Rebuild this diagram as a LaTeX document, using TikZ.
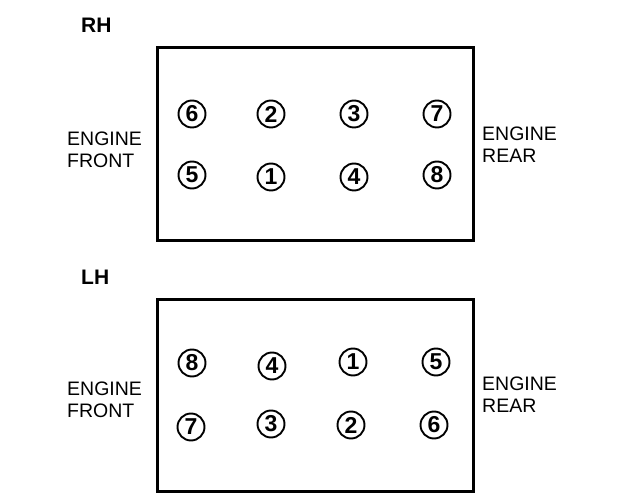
\documentclass[tikz,border=0pt]{standalone}
\usepackage{fontspec}
\setmainfont{Liberation Sans}
\usepackage{tikz}
\usetikzlibrary{positioning}

\begin{document}
\begin{tikzpicture}[
  x=1pt, y=-1pt,
  cyl/.style={
    circle, draw=black, line width=1.9pt,
    minimum size=27pt, inner sep=0pt,
    font=\fontsize{23}{23}\selectfont\bfseries
  },
  sidelabel/.style={
    anchor=north west, inner sep=0pt, align=left,
    font=\fontsize{19.5}{22}\selectfont
  },
  banklabel/.style={
    anchor=north west, inner sep=0pt,
    font=\fontsize{21}{21}\selectfont\bfseries
  },
  head/.style={draw=black, line width=3pt}
]
\useasboundingbox (0,0) rectangle (624,502);

% right hand bank
\node[banklabel] (rh) at (81,18) {RH};
\draw[head] (157,48) rectangle (473,241);
\node[cyl] (rh6) at (192,114) {6};
\node[cyl] (rh2) at (271,114) {2};
\node[cyl] (rh3) at (354,114) {3};
\node[cyl] (rh7) at (437,114) {7};
\node[cyl] (rh5) at (192,175) {5};
\node[cyl] (rh1) at (271,177) {1};
\node[cyl] (rh4) at (354,177) {4};
\node[cyl] (rh8) at (437,175) {8};
\node[sidelabel] (rhfront) at (67,132) {ENGINE\\FRONT};
\node[sidelabel] (rhrear) at (482,127) {ENGINE\\REAR};

% left hand bank
\node[banklabel] (lh) at (81,270) {LH};
\draw[head] (157,300) rectangle (473,491);
\node[cyl] (lh8) at (192,363) {8};
\node[cyl] (lh4) at (272,366) {4};
\node[cyl] (lh1) at (353,362) {1};
\node[cyl] (lh5) at (436,362) {5};
\node[cyl] (lh7) at (191,427) {7};
\node[cyl] (lh3) at (271,424) {3};
\node[cyl] (lh2) at (351,425) {2};
\node[cyl] (lh6) at (434,425) {6};
\node[sidelabel] (lhfront) at (67,382) {ENGINE\\FRONT};
\node[sidelabel] (lhrear) at (482,377) {ENGINE\\REAR};
\end{tikzpicture}
\end{document}
